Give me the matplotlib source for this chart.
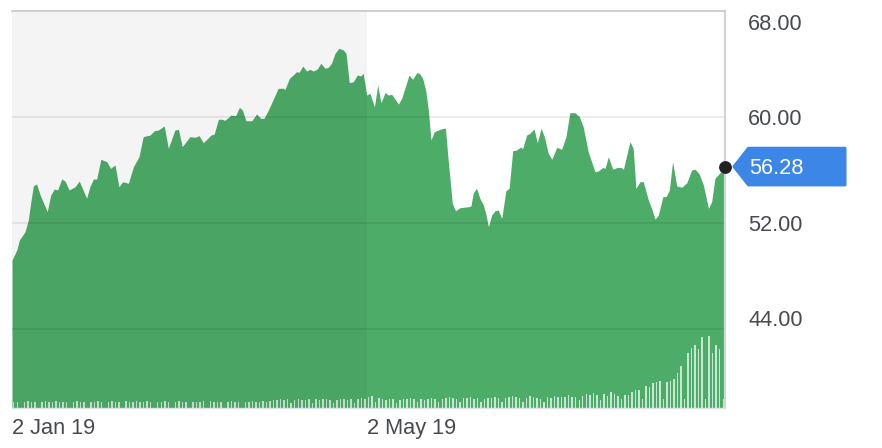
import numpy as np
import pandas as pd
import matplotlib
matplotlib.use("Agg")
import matplotlib.pyplot as plt
import matplotlib.dates as mdates
from matplotlib.patches import Polygon
from matplotlib.transforms import IdentityTransform

plt.rcParams['font.family'] = ['Liberation Sans', 'DejaVu Sans']

# price series: days after 2 Jan 2019 and closing price
days = [0.0, 1.6, 2.5, 4.4, 5.5, 6.3, 7.2, 8.3, 9.5, 11.9, 13.1, 14.3, 15.4, 16.8, 17.9,
        19.3, 21.3, 22.7, 25.2, 26.3, 27.5, 28.6, 30.0, 32.0, 33.3, 34.8, 36.1, 37.4, 39.3,
        41.0, 42.9, 44.3, 46.6, 48.1, 49.4, 51.4, 52.8, 55.0, 56.2, 57.5, 60.1, 61.8, 63.2,
        64.6, 67.2, 68.3, 69.7, 71.0, 71.9, 74.0, 75.5, 76.8, 77.8, 79.0, 81.0, 82.6, 84.0,
        85.1, 86.6, 89.9, 91.6, 92.2, 93.7, 95.2, 96.1, 97.0, 98.2, 99.5, 100.6, 101.8, 103.1,
        104.3, 105.7, 106.8, 107.9, 109.1, 110.4, 111.9, 112.8, 113.9, 115.3, 116.6, 117.8,
        118.6, 119.8, 120.9, 122.4, 123.5, 124.6, 126.0, 127.1, 128.2, 130.5, 131.6, 134.1,
        135.3, 136.7, 137.6, 138.7, 139.7, 140.6, 141.5, 142.6, 144.5, 145.7, 146.4, 147.1,
        148.7, 149.8, 151.3, 154.1, 155.0, 155.8, 156.9, 158.0, 159.2, 160.1, 160.9, 162.0,
        163.1, 164.2, 165.4, 166.8, 167.9, 169.1, 170.4, 171.6, 172.5, 173.8, 174.9, 176.3,
        177.4, 178.7, 179.8, 181.1, 182.3, 184.0, 185.6, 187.1, 188.4, 190.1, 191.6, 192.9,
        194.6, 196.9, 198.0, 199.5, 200.3, 201.4, 202.9, 204.2, 205.6, 206.5, 208.7, 209.8,
        210.7, 212.1, 213.2, 214.9, 216.0, 217.2, 218.3, 219.8, 220.9, 222.0, 223.1, 224.5,
        226.2, 227.9, 229.5, 230.7, 232.1, 233.5, 235.2, 236.3, 237.4, 238.9, 240.4, 240.8]
prices = [49.23, 49.98, 50.74, 51.37, 52.25, 53.53, 54.82, 54.97, 54.14, 52.88, 54.14, 54.59,
          54.51, 55.34, 55.19, 54.51, 54.76, 55.19, 53.89, 54.76, 55.34, 55.34, 56.83, 56.65,
          56.15, 56.40, 54.76, 55.14, 55.02, 56.27, 57.03, 58.54, 58.66, 58.99, 59.04, 59.34,
          57.66, 59.04, 59.09, 57.78, 58.54, 58.49, 58.61, 58.08, 58.66, 58.74, 59.85, 59.85,
          59.77, 60.17, 60.12, 60.75, 60.55, 59.74, 59.74, 60.25, 59.92, 59.92, 60.55, 62.19,
          62.19, 62.11, 62.94, 63.25, 63.44, 63.40, 63.87, 63.49, 63.62, 63.49, 63.65, 64.08,
          63.70, 63.77, 64.08, 64.83, 65.21, 65.08, 64.83, 62.61, 62.69, 63.19, 63.12, 63.32,
          61.68, 61.81, 60.78, 62.44, 61.10, 61.87, 61.68, 61.74, 61.00, 61.43, 63.19, 62.87,
          63.37, 63.32, 62.94, 62.06, 60.55, 58.29, 58.91, 59.09, 59.17, 59.17, 57.28, 53.51,
          52.95, 53.18, 53.25, 53.31, 54.31, 54.64, 53.89, 53.38, 52.63, 51.74, 52.63, 52.95,
          53.00, 52.38, 54.46, 54.64, 57.48, 57.53, 57.74, 57.66, 58.66, 58.79, 59.12, 58.08,
          59.17, 58.54, 57.28, 56.83, 57.74, 57.58, 58.54, 60.35, 60.35, 60.05, 59.29, 57.40,
          55.89, 55.95, 56.21, 56.15, 57.03, 56.08, 56.20, 56.23, 56.08, 58.16, 57.66, 54.64,
          55.14, 55.14, 53.76, 53.13, 52.32, 52.63, 54.01, 54.01, 54.51, 56.65, 54.82, 54.72,
          55.06, 56.02, 56.08, 55.72, 54.89, 53.13, 53.63, 55.40, 55.77, 56.00, 56.28]

# volume bars (one per session, weekly short bars)
volume_early = [6, 6, 0, 6, 7, 6, 6, 0, 6, 7, 6, 6, 7, 6, 6, 6, 0, 6, 7, 6, 6, 0, 6, 6, 7, 6, 0,
                6, 7, 6, 6, 0, 7, 6, 6, 7, 6, 6, 7, 6, 0, 6, 6, 7, 6, 0, 6, 7, 6, 6, 0, 6, 6, 6,
                7, 0, 7, 6, 6, 6, 0, 6, 7, 6, 6, 0, 6, 6, 7, 6, 6, 7, 6, 7]
volume_mid = [8, 8, 9, 8, 9, 5, 8, 9, 8, 8, 9, 5, 9, 8, 9, 9, 8, 5, 8, 9, 9, 8, 9, 5,
              9, 10, 9, 11, 12, 6, 10, 9, 8, 9, 9, 5, 8, 9, 9, 10, 9, 6, 9, 8, 9, 10, 9, 6,
              9, 10, 11, 10, 9, 6, 10, 10, 11, 9, 10, 6, 9, 10, 10, 11, 10, 6, 10, 11, 12, 11, 10, 6,
              10, 12, 11, 10, 9, 6, 11, 10, 12, 11]
volume_late = [10.7, 10.7, 12.7, 11, 11, 8.3, 11.7, 13.7, 13.3, 15, 13, 8.3, 13.7, 12, 16, 14.3,
               12.3, 8.7, 13, 13, 16, 18, 18.3, 9, 22, 20.7, 24.7, 25.7, 26.7, 8.7, 26.3, 26.7,
               29, 35, 41.7, 9, 55, 60, 62.7, 59.3, 71, 9.3, 72, 55, 63, 59, 9.3]
volume = volume_early + volume_mid + volume_late

y_ticks = [44, 52, 60, 68]
last_price = 56.28

start = pd.Timestamp('2019-01-02')
dates = start + pd.to_timedelta(days, unit='D')
x_ticks = [pd.Timestamp('2019-01-02'), pd.Timestamp('2019-05-02')]
shade_end = pd.Timestamp('2019-05-02')

W, H = 882, 448
fig = plt.figure(figsize=(W / 100, H / 100), dpi=100)
rect = [12 / W, 40 / H, 713 / W, 396.7 / H]
ymin, ymax = 38.06, 68
xmin, xmax = start, start + pd.Timedelta(days=240.8)

green = '#4eac69'
label_col = '#464a4f'

# bottom layer: price area
axb = fig.add_axes(rect, zorder=1)
axb.fill_between(dates, prices, ymin, color=green, lw=0)
axb.set_xlim(xmin, xmax)
axb.set_ylim(ymin, ymax)
axb.axis('off')

# middle layer: volume bars
axv = fig.add_axes(rect, zorder=2)
axv.bar(np.arange(len(volume)), volume, width=0.42, color='white', alpha=0.7, lw=0)
axv.set_xlim(-0.5, len(volume) - 0.5)
axv.set_ylim(0, 396.7)
axv.axis('off')

# top layer: shading, grid, frame, labels
ax = fig.add_axes(rect, zorder=3)
ax.patch.set_visible(False)
ax.set_xlim(xmin, xmax)
ax.set_ylim(ymin, ymax)
ax.axvspan(xmin, shade_end, color='black', alpha=0.045, lw=0)
for v in y_ticks[:-1]:
    ax.axhline(v, color='black', alpha=0.08, lw=1.3)

ax.spines['left'].set_visible(False)
ax.spines['top'].set_color('#c6c6cb')
ax.spines['top'].set_linewidth(1.2)
ax.spines['right'].set_color('#d1d5db')
ax.spines['right'].set_linewidth(1.6)
ax.spines['bottom'].set_color('#dfe2e6')
ax.spines['bottom'].set_linewidth(1.0)

ax.set_yticks([])
ax.set_xticks(x_ticks)
ax.xaxis.set_major_formatter(mdates.DateFormatter('%-d %b %y'))
ax.tick_params(axis='x', length=0, pad=7, labelsize=15.7, labelcolor=label_col)
for t in ax.get_xticklabels():
    t.set_horizontalalignment('left')

label_shift = {68: -9.2, 60: -1.5, 52: -1.5, 44: 6.5}
for v in y_ticks:
    ax.annotate(f'{v:.2f}', xy=(1, v), xycoords=('axes fraction', 'data'),
                xytext=(16.6, label_shift[v]), textcoords='offset points',
                ha='left', va='center', fontsize=15.7, color=label_col)

# last price marker and tag
last_date = dates[-1]
ax.plot([last_date], [last_price], 'o', ms=8.2, color='#222222', clip_on=False, zorder=6)
px, py = ax.transData.transform((mdates.date2num(last_date), last_price))
hh = 18.3
tag = Polygon([(px + 9, py), (px + 23.5, py + hh), (px + 120, py + hh),
               (px + 120, py - hh), (px + 23.5, py - hh)],
              closed=True, transform=IdentityTransform(), facecolor='#3b86e6',
              edgecolor='#3b86e6', lw=2.2, joinstyle='round')
fig.add_artist(tag)
fig.text(px + 24, py - 1.5, f'{last_price:.2f}', transform=IdentityTransform(),
         ha='left', va='center', fontsize=15.7, color='white')

fig.savefig('out.png', dpi=100)
